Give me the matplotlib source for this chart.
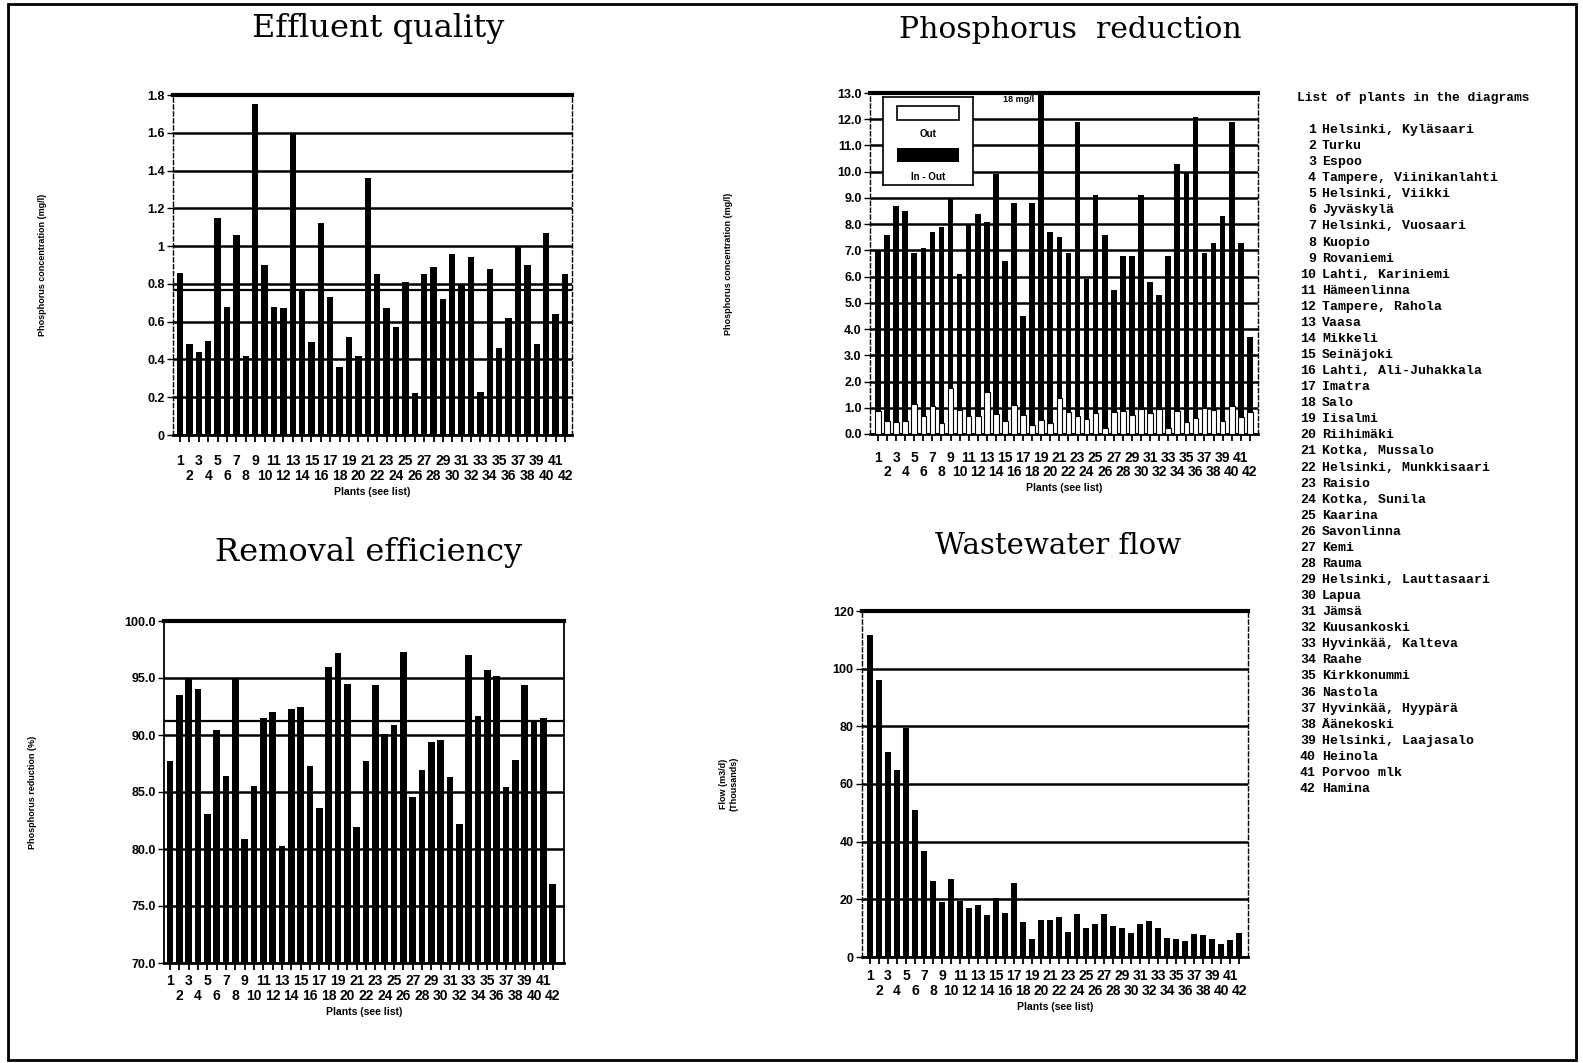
import numpy as np
import matplotlib.pyplot as plt
from matplotlib.patches import Rectangle

# Plants 1..42 (see list)
plants = np.arange(1, 43)
plant_names = [
    "Helsinki, Kyläsaari", "Turku", "Espoo", "Tampere, Viinikanlahti",
    "Helsinki, Viikki", "Jyväskylä", "Helsinki, Vuosaari", "Kuopio",
    "Rovaniemi", "Lahti, Kariniemi", "Hämeenlinna", "Tampere, Rahola",
    "Vaasa", "Mikkeli", "Seinäjoki", "Lahti, Ali-Juhakkala", "Imatra",
    "Salo", "Iisalmi", "Riihimäki", "Kotka, Mussalo", "Helsinki, Munkkisaari",
    "Raisio", "Kotka, Sunila", "Kaarina", "Savonlinna", "Kemi", "Rauma",
    "Helsinki, Lauttasaari", "Lapua", "Jämsä", "Kuusankoski",
    "Hyvinkää, Kalteva", "Raahe", "Kirkkonummi", "Nastola",
    "Hyvinkää, Hyypärä", "Äänekoski", "Helsinki, Laajasalo", "Heinola",
    "Porvoo mlk", "Hamina",
]

# effluent phosphorus (mg/l)
effluent = [0.86, 0.48, 0.44, 0.50, 1.15, 0.68, 1.06, 0.42, 1.75, 0.90,
            0.68, 0.67, 1.60, 0.77, 0.49, 1.12, 0.73, 0.36, 0.52, 0.42,
            1.36, 0.85, 0.67, 0.57, 0.81, 0.22, 0.85, 0.89, 0.72, 0.96,
            0.80, 0.94, 0.23, 0.88, 0.46, 0.62, 1.00, 0.90, 0.48, 1.07,
            0.64, 0.85]
effluent_mean = 0.77

# influent and effluent phosphorus (mg/l)
phos_in = [7.0, 7.6, 8.7, 8.5, 6.9, 7.1, 7.7, 7.9, 9.0, 6.1,
           8.0, 8.4, 8.1, 9.9, 6.6, 8.8, 4.5, 8.8, 18.0, 7.7,
           7.5, 6.9, 11.9, 5.9, 9.1, 7.6, 5.5, 6.8, 6.8, 9.1,
           5.8, 5.3, 6.8, 10.3, 10.0, 12.1, 6.9, 7.3, 8.3, 11.9,
           7.3, 3.7]
phos_out = [0.86, 0.48, 0.44, 0.50, 1.15, 0.68, 1.06, 0.42, 1.75, 0.90,
            0.68, 0.67, 1.60, 0.77, 0.49, 1.12, 0.73, 0.36, 0.52, 0.42,
            1.36, 0.85, 0.67, 0.57, 0.81, 0.22, 0.85, 0.89, 0.72, 0.96,
            0.80, 0.94, 0.23, 0.88, 0.46, 0.62, 1.00, 0.90, 0.48, 1.07,
            0.64, 0.85]

# phosphorus reduction (%)
removal = [87.7, 93.5, 94.9, 94.0, 83.1, 90.4, 86.4, 94.9, 80.9, 85.5,
           91.5, 92.0, 80.3, 92.3, 92.5, 87.3, 83.6, 96.0, 97.2, 94.5,
           81.9, 87.7, 94.4, 90.1, 90.9, 97.3, 84.6, 86.9, 89.4, 89.6,
           86.3, 82.2, 97.0, 91.7, 95.7, 95.2, 85.4, 87.8, 94.4, 91.3,
           91.5, 76.9]
removal_mean = 91.2

# wastewater flow (thousand m3/d)
flow = [111.7, 96.2, 71.1, 64.7, 79.3, 51.0, 36.9, 26.5, 19.1, 27.0,
        19.5, 17.1, 18.1, 14.6, 20.4, 15.2, 25.6, 12.0, 6.4, 12.8,
        12.8, 14.0, 8.7, 14.9, 9.9, 11.4, 14.8, 10.7, 10.1, 8.2,
        11.3, 12.6, 9.9, 6.6, 6.2, 5.5, 7.9, 7.6, 6.2, 4.4,
        5.8, 8.2]

W, H = 1583, 1063
fig = plt.figure(figsize=(W / 100, H / 100), dpi=100)


def px_axes(left, top, right, bottom):
    return fig.add_axes([left / W, 1 - bottom / H, (right - left) / W, (bottom - top) / H])


odd = plants[plants % 2 == 1]
even = plants[plants % 2 == 0]
tick_font = dict(family='Liberation Sans', weight='bold', size=9)
xtick_font = dict(family='Liberation Sans', weight='bold', size=10)


def style(ax, xlim, ylim, yticks, ylabels, ylabel, ylabel_x, pad):
    ax.set_xlim(*xlim)
    ax.set_ylim(*ylim)
    ax.set_yticks(yticks)
    ax.set_yticklabels(ylabels, **tick_font)
    # odd plant numbers on the first row, even ones on the second
    ax.set_xticks(odd)
    ax.set_xticklabels([str(p) for p in odd], **xtick_font)
    ax.set_xticks(even, minor=True)
    ax.set_xticklabels([str(p) for p in even], minor=True, **xtick_font)
    ax.tick_params(axis='x', which='both', length=5, width=1.3, direction='out')
    ax.tick_params(axis='x', which='major', pad=pad)
    ax.tick_params(axis='x', which='minor', pad=pad + 10.5)
    ax.tick_params(axis='y', length=4, width=1, pad=2)
    ax.yaxis.grid(True, color='black', linewidth=1.8)
    ax.set_axisbelow(True)
    ax.spines['top'].set_linewidth(3)
    ax.spines['bottom'].set_linewidth(2)
    for s in ('left', 'right'):
        ax.spines[s].set_linestyle((0, (3, 2)))
        ax.spines[s].set_linewidth(1)
    ax.set_ylabel(ylabel, fontsize=6.5, family='Liberation Sans', weight='bold')
    ax.yaxis.set_label_coords(ylabel_x, 0.5)
    ax.set_xlabel('Plants (see list)', fontsize=7.5, family='Liberation Sans',
                  weight='bold', labelpad=3)


# Effluent quality
ax1 = px_axes(173, 95, 572, 435)
ax1.bar(plants, effluent, width=0.68, color='black', zorder=3)
ax1.axhline(effluent_mean, color='black', linewidth=1.6, zorder=2)
style(ax1, (0.25, 42.75), (0, 1.8), np.arange(0, 1.81, 0.2),
      ['0', '0.2', '0.4', '0.6', '0.8', '1', '1.2', '1.4', '1.6', '1.8'],
      'Phosphorus concentration (mg/l)', -0.316, 9)

# Phosphorus reduction
ax2 = px_axes(870, 93, 1258, 434)
out_arr = np.array(phos_out)
ax2.bar(plants, out_arr, width=0.62, color='white', edgecolor='black',
        linewidth=0.8, zorder=3)
ax2.bar(plants, np.array(phos_in) - out_arr, bottom=out_arr, width=0.62,
        color='black', zorder=3)
style(ax2, (0.12, 42.9), (0, 13), np.arange(0, 13.1, 1),
      ['%.1f' % v for v in np.arange(0, 13.1, 1)],
      'Phosphorus concentration (mg/l)', -0.353, 7)
ax2.annotate('18 mg/l', xy=(19, 12.7), xytext=(14.8, 12.75), fontsize=6.5,
             family='Liberation Sans', weight='bold', va='center',
             arrowprops=dict(arrowstyle='-', color='black', lw=0.8,
                             connectionstyle='arc3,rad=0.4'))

# legend box drawn by hand
lg = px_axes(883, 97, 973, 185)
lg.set_xlim(0, 1)
lg.set_ylim(0, 1)
lg.set_xticks([])
lg.set_yticks([])
for s in lg.spines.values():
    s.set_linewidth(1.2)
lg.add_patch(Rectangle((0.16, 0.74), 0.68, 0.16, facecolor='white',
                       edgecolor='black', linewidth=1.2))
lg.text(0.5, 0.58, 'Out', ha='center', va='center', fontsize=7,
        family='Liberation Sans', weight='bold')
lg.add_patch(Rectangle((0.16, 0.26), 0.68, 0.16, facecolor='black'))
lg.text(0.5, 0.09, 'In - Out', ha='center', va='center', fontsize=7,
        family='Liberation Sans', weight='bold')

# Removal efficiency
ax3 = px_axes(164, 621, 564, 963)
ax3.bar(plants, removal, width=0.72, color='black', zorder=3)
ax3.axhline(removal_mean, color='black', linewidth=1.6, zorder=2)
style(ax3, (0.36, 43.2), (70, 100), np.arange(70, 100.1, 5),
      ['%.1f' % v for v in np.arange(70, 100.1, 5)],
      'Phosphorus reduction (%)', -0.318, 3)
for s in ('left', 'right'):
    ax3.spines[s].set_linestyle('-')
    ax3.spines[s].set_linewidth(1.3)

# Wastewater flow
ax4 = px_axes(862, 611, 1248, 957)
ax4.bar(plants, flow, width=0.68, color='black', zorder=3)
style(ax4, (0.11, 43), (0, 120), np.arange(0, 121, 20),
      [str(v) for v in range(0, 121, 20)],
      'Flow (m3/d)\n(Thousands)', -0.321, 4)

# titles
fig.text(378 / W, 1 - 28 / H, 'Effluent quality', ha='center', va='center',
         family='DejaVu Serif', fontsize=23)
fig.text(1070 / W, 1 - 30 / H, 'Phosphorus  reduction', ha='center', va='center',
         family='DejaVu Serif', fontsize=21.5)
fig.text(369 / W, 1 - 553 / H, 'Removal efficiency', ha='center', va='center',
         family='DejaVu Serif', fontsize=23)
fig.text(1058 / W, 1 - 546 / H, 'Wastewater flow', ha='center', va='center',
         family='DejaVu Serif', fontsize=21)

# plant list
fig.text(1297 / W, 1 - 98 / H, 'List of plants in the diagrams', ha='left',
         va='center', family='Liberation Mono', weight='bold', fontsize=9.3)
for i, name in enumerate(plant_names):
    y = 130 + i * (789 - 130) / 41
    fig.text(1316 / W, 1 - y / H, str(plants[i]), ha='right', va='center',
             family='Liberation Mono', weight='bold', fontsize=9.5)
    fig.text(1322 / W, 1 - y / H, name, ha='left', va='center',
             family='Liberation Mono', weight='bold', fontsize=9.5)

# page frame
fig.patches.append(Rectangle((8 / W, 1 - 1060 / H), (1576 - 8) / W, (1060 - 4) / H,
                             transform=fig.transFigure, fill=False,
                             edgecolor='black', linewidth=2))

fig.savefig('out.png', dpi=100)
